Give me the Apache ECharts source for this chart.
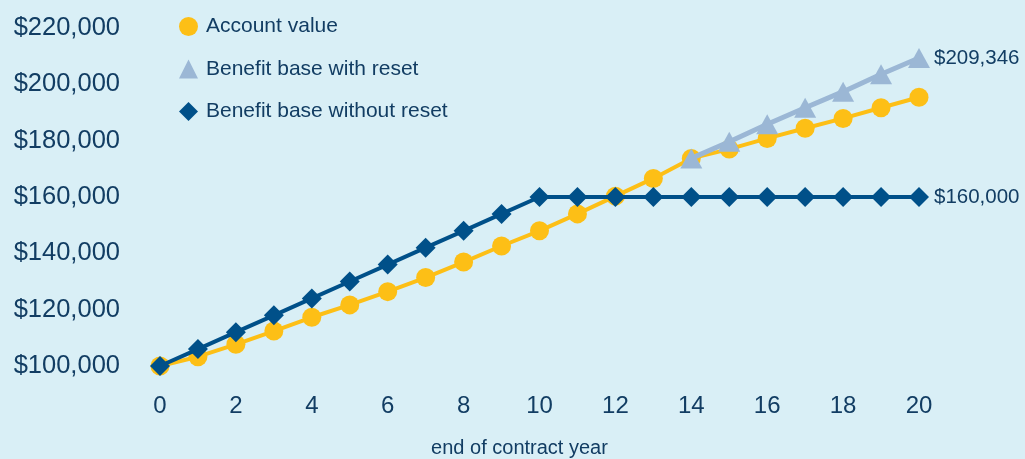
<!DOCTYPE html>
<html>
<head>
<meta charset="utf-8">
<script src="https://cdn.jsdelivr.net/npm/echarts@6/dist/echarts.min.js"></script>
<style>
html,body{margin:0;padding:0;background:#d9eff6;}
#chart{width:1025px;height:459px;}
</style>
</head>
<body>
<div id="chart"></div>
<script>
var years = [0,1,2,3,4,5,6,7,8,9,10,11,12,13,14,15,16,17,18,19,20];
var accountValue = [100000,103300,107700,112400,117300,121700,126400,131400,136900,142600,148000,154000,160300,166600,173700,177000,180800,184400,187900,191700,195400];
var resetYears = [14,15,16,17,18,19,20];
var withReset = [173700,179600,185800,191700,197400,203600,209346];
var withoutReset = [100000,106000,112000,118000,124000,130000,136000,142000,148000,154000,160000,160000,160000,160000,160000,160000,160000,160000,160000,160000,160000];
var yTicks = [100000,120000,140000,160000,180000,200000,220000];
var seriesNames = ['Account value','Benefit base with reset','Benefit base without reset'];

var navy = '#123d63';
function pairs(xs, ys){ return xs.map(function(x,i){ return [x, ys[i]]; }); }
function money(v){ return '$' + Math.round(v).toLocaleString('en-US'); }

var chart = echarts.init(document.getElementById('chart'));
chart.setOption({
  animation: false,
  backgroundColor: '#d9eff6',
  grid: {left: 160, right: 106, top: 28, bottom: 93, outerBoundsMode: 'none', containLabel: false},
  legend: {
    orient: 'vertical', left: 174, top: 9, itemWidth: 19, itemHeight: 19, itemGap: 17.5,
    selectedMode: false,
    textStyle: {fontFamily: 'Liberation Sans', fontSize: 21, color: navy, lineHeight: 25, padding: [0,0,0,3]},
    data: [
      {name: seriesNames[0], icon: 'circle', itemStyle: {color: '#fdbf16'}},
      {name: seriesNames[1], icon: 'triangle', itemStyle: {color: '#9bb7d5'}},
      {name: seriesNames[2], icon: 'diamond', itemStyle: {color: '#005089'}}
    ]
  },
  xAxis: {
    type: 'value', min: 0, max: 20, interval: 2,
    axisLine: {show: false}, axisTick: {show: false}, splitLine: {show: false},
    axisLabel: {margin: 28, fontFamily: 'Liberation Sans', fontSize: 24, color: navy},
    name: 'end of contract year', nameLocation: 'middle', nameGap: 72,
    nameTextStyle: {fontFamily: 'Liberation Sans', fontSize: 20, color: navy, padding: [0, 40, 0, 0]}
  },
  yAxis: {
    type: 'value', min: yTicks[0], max: yTicks[yTicks.length-1], interval: yTicks[1]-yTicks[0],
    axisLine: {show: false}, axisTick: {show: false}, splitLine: {show: false},
    axisLabel: {margin: 40, fontFamily: 'Liberation Sans', fontSize: 25.5, color: navy, padding: [0,0,9,0],
      formatter: function(v){ return money(v); }}
  },
  series: [
    {
      name: seriesNames[0], type: 'line', data: pairs(years, accountValue), z: 2,
      symbol: 'circle', symbolSize: 19,
      lineStyle: {color: '#fdbf16', width: 4}, itemStyle: {color: '#fdbf16'}
    },
    {
      name: seriesNames[1], type: 'line', data: pairs(resetYears, withReset), z: 3,
      symbol: 'triangle', symbolSize: [22, 20],
      lineStyle: {color: '#9bb7d5', width: 5}, itemStyle: {color: '#9bb7d5'},
      endLabel: {show: true, distance: 15, fontFamily: 'Liberation Sans', fontSize: 20.5, color: navy,
        formatter: function(p){ return money(p.value[1]); }}
    },
    {
      name: seriesNames[2], type: 'line', data: pairs(years, withoutReset), z: 4,
      symbol: 'diamond', symbolSize: 20,
      lineStyle: {color: '#005089', width: 4}, itemStyle: {color: '#005089'},
      endLabel: {show: true, distance: 15, fontFamily: 'Liberation Sans', fontSize: 20.5, color: navy,
        formatter: function(p){ return money(p.value[1]); }}
    }
  ]
});
</script>
</body>
</html>
